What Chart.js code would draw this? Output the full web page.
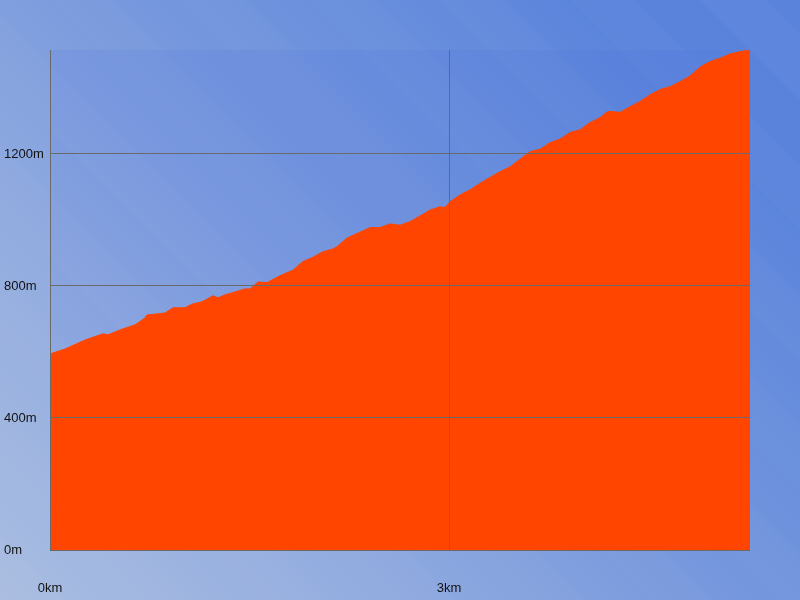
<!DOCTYPE html>
<html>
<head>
<meta charset="utf-8">
<script src="https://cdn.jsdelivr.net/npm/chart.js@4"></script>
<style>
  html, body { margin: 0; padding: 0; }
  #wrap { width: 800px; height: 600px; }
</style>
</head>
<body>
<div id="wrap"><canvas id="profile"></canvas></div>
<script>
// distance along the route (km) and elevation (m)
const distKm = [0, 0.113, 0.263, 0.398, 0.436, 0.541, 0.639, 0.714, 0.729, 0.865, 0.925, 1.015, 1.068, 1.143, 1.226, 1.263, 1.316, 1.466, 1.504, 1.564, 1.632, 1.729, 1.827, 1.902, 1.977, 2.053, 2.120, 2.158, 2.233, 2.331, 2.406, 2.481, 2.556, 2.632, 2.707, 2.782, 2.857, 2.932, 2.970, 3.008, 3.083, 3.158, 3.233, 3.308, 3.383, 3.459, 3.534, 3.609, 3.684, 3.759, 3.835, 3.910, 3.985, 4.060, 4.135, 4.195, 4.263, 4.286, 4.361, 4.436, 4.511, 4.586, 4.662, 4.737, 4.812, 4.887, 4.962, 5.038, 5.113, 5.188, 5.263];
const elevM = [594, 609, 636, 655, 652, 669, 682, 703, 712, 718, 734, 734, 745, 752, 770, 764, 773, 791, 791, 812, 810, 831, 848, 874, 887, 904, 911, 919, 945, 963, 977, 977, 988, 984, 995, 1012, 1030, 1040, 1038, 1055, 1076, 1091, 1111, 1129, 1146, 1161, 1184, 1207, 1214, 1234, 1245, 1265, 1273, 1295, 1310, 1329, 1327, 1326, 1343, 1359, 1379, 1395, 1404, 1419, 1436, 1463, 1480, 1490, 1503, 1510, 1515];
const xTicks = [0, 3];
const yTicks = [0, 400, 800, 1200];

const points = distKm.map((d, i) => ({ x: d, y: elevM[i] }));

// page background + slightly darker plot area
const backdrop = {
    id: 'backdrop',
    beforeDraw(chart) {
        const ctx = chart.ctx;
        const w = chart.width, h = chart.height;
        ctx.save();
        const g = ctx.createLinearGradient(0, h, w * 0.75, 0);
        g.addColorStop(0, '#aabde1');
        g.addColorStop(0.3, '#93ade0');
        g.addColorStop(0.6, '#7798dd');
        g.addColorStop(1, '#5a84dc');
        ctx.fillStyle = g;
        ctx.fillRect(0, 0, w, h);
        // very faint diagonal bands
        ctx.fillStyle = 'rgba(255,255,255,0.018)';
        for (let k = -600; k < 800; k += 130) {
            ctx.beginPath();
            ctx.moveTo(k, 0);
            ctx.lineTo(k + 65, 0);
            ctx.lineTo(k + 65 + 600, h);
            ctx.lineTo(k + 600, h);
            ctx.closePath();
            ctx.fill();
        }
        const a = chart.chartArea;
        ctx.fillStyle = 'rgba(70,110,220,0.12)';
        ctx.fillRect(a.left, a.top, a.right - a.left, a.bottom - a.top);
        ctx.restore();
    }
};

const gridLine = (c) => c.tick && c.tick.value === 0 ? 0 : 1;

new Chart(document.getElementById('profile'), {
    type: 'line',
    data: {
        datasets: [{
            data: points,
            fill: 'origin',
            backgroundColor: '#ff4500',
            borderColor: '#ff4500',
            borderWidth: 1,
            pointRadius: 0,
            tension: 0
        }]
    },
    options: {
        responsive: true,
        maintainAspectRatio: false,
        animation: false,
        layout: { padding: { left: 4, top: 50, right: 50, bottom: 0 } },
        plugins: { legend: { display: false }, tooltip: { enabled: false } },
        scales: {
            x: {
                type: 'linear',
                min: 0,
                max: distKm[distKm.length - 1],
                afterBuildTicks(axis) { axis.ticks = xTicks.map(v => ({ value: v })); },
                afterFit(axis) { axis.height = 50; },
                grid: { z: 1, color: '#6a6a6a', drawTicks: false, lineWidth: gridLine },
                border: { z: 1, display: true, color: '#6a6a6a', width: 1 },
                ticks: {
                    color: '#111',
                    font: { family: 'Liberation Sans', size: 13 },
                    padding: 31,
                    maxRotation: 0,
                    callback: (v) => v + 'km'
                }
            },
            y: {
                type: 'linear',
                min: 0,
                max: 1515,
                afterBuildTicks(axis) { axis.ticks = yTicks.map(v => ({ value: v })); },
                afterFit(axis) { axis.width = 46; },
                grid: { z: 1, color: '#6a6a6a', drawTicks: false, lineWidth: gridLine },
                border: { z: 1, display: true, color: '#6a6a6a', width: 1 },
                ticks: {
                    color: '#111',
                    font: { family: 'Liberation Sans', size: 13 },
                    crossAlign: 'far',
                    callback: (v) => v + 'm'
                }
            }
        }
    },
    plugins: [backdrop]
});
</script>
</body>
</html>
